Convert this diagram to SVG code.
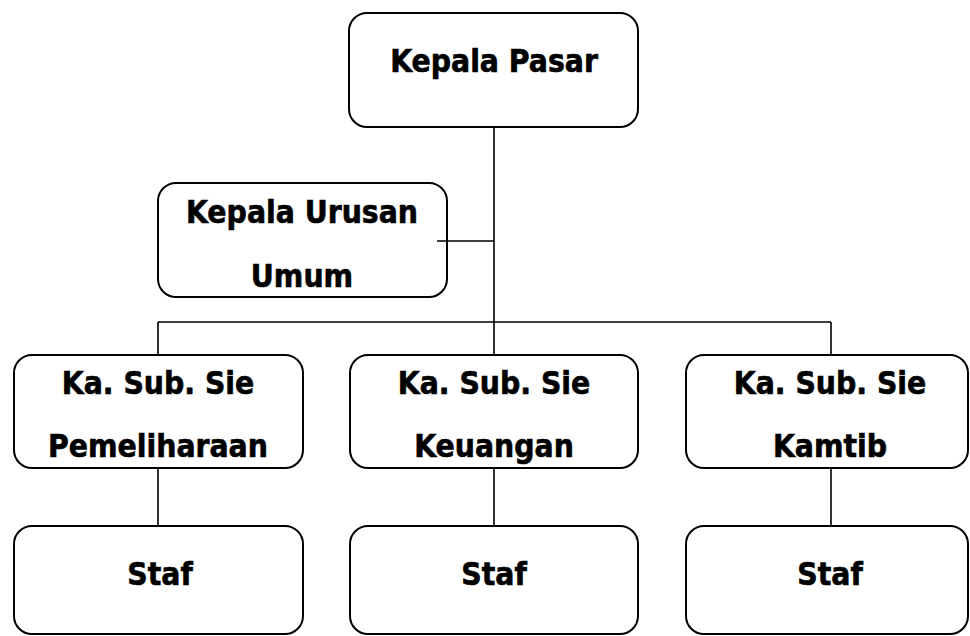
<svg xmlns="http://www.w3.org/2000/svg" width="970" height="636" viewBox="0 0 970 636">
<style>
.box{fill:#fff;stroke:#000;stroke-width:2}
.ln{stroke:#000;stroke-width:1.6;fill:none}
text{font-family:"DejaVu Sans Condensed","DejaVu Sans",sans-serif;font-weight:bold;font-size:31.5px;fill:#000;stroke:#000;stroke-width:0.6;text-anchor:middle}
</style>
<g id="kepala-pasar"><rect class="box" x="349" y="13" width="289" height="114" rx="18"/><text x="494" y="72">Kepala Pasar</text></g>
<g id="kepala-urusan-umum"><rect class="box" x="158" y="183" width="289" height="114" rx="18"/><text x="302" y="223">Kepala Urusan</text><text x="302" y="287">Umum</text></g>
<g id="kasubsie-pemeliharaan"><rect class="box" x="14" y="355" width="289" height="113" rx="18"/><text x="158" y="394">Ka. Sub. Sie</text><text x="158" y="457">Pemeliharaan</text></g>
<g id="kasubsie-keuangan"><rect class="box" x="350" y="355" width="288" height="113" rx="18"/><text x="494" y="394">Ka. Sub. Sie</text><text x="494" y="457">Keuangan</text></g>
<g id="kasubsie-kamtib"><rect class="box" x="686" y="355" width="282" height="113" rx="18"/><text x="830" y="394">Ka. Sub. Sie</text><text x="830" y="457">Kamtib</text></g>
<g id="staf-1"><rect class="box" x="14" y="526" width="289" height="108" rx="18"/><text x="160" y="585">Staf</text></g>
<g id="staf-2"><rect class="box" x="350" y="526" width="288" height="108" rx="18"/><text x="494" y="585">Staf</text></g>
<g id="staf-3"><rect class="box" x="686" y="526" width="282" height="108" rx="18"/><text x="830" y="585">Staf</text></g>
<g id="connectors">
<path class="ln" d="M494 127V355M437 241H494M158 322H831M158 322V355M831 322V355M158 468V526M494 468V526M831 468V526"/>
</g>
</svg>
